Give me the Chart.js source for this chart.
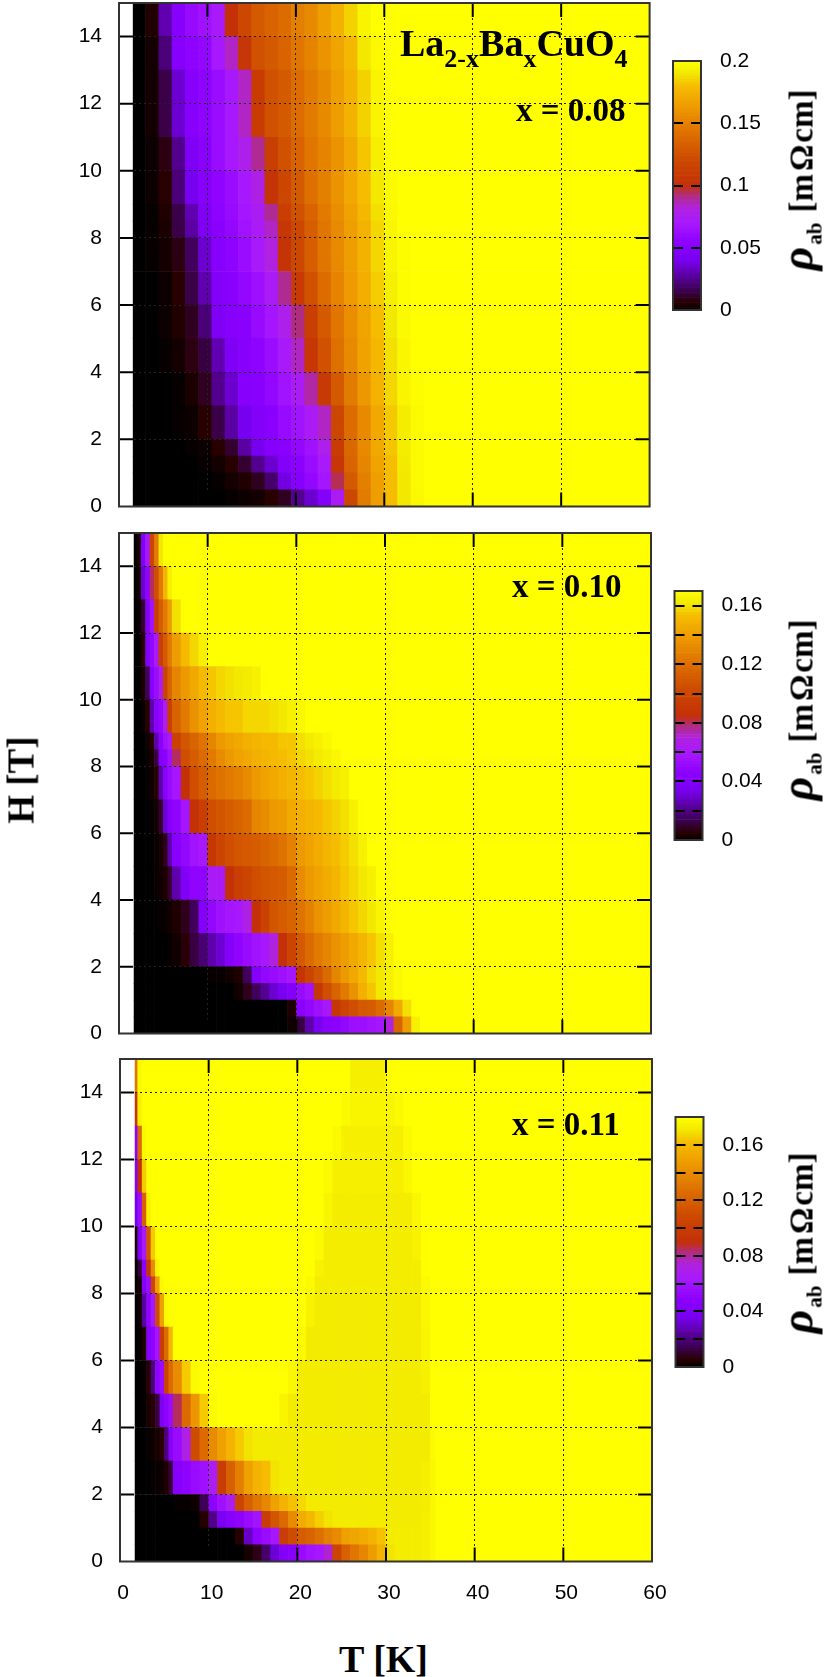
<!DOCTYPE html>
<html>
<head>
<meta charset="utf-8">
<title>La2-xBaxCuO4 resistivity maps</title>
<script src="https://cdn.jsdelivr.net/npm/chart.js@4"></script>
<style>
  html, body { margin: 0; padding: 0; background: #fff; width: 830px; height: 1677px; overflow: hidden; }
  canvas { position: absolute; }
  .txt { position: absolute; font-family: "Liberation Serif", serif; font-weight: bold; color: #000; line-height: 1; white-space: nowrap; }
  .rot { transform: translate(-50%, -50%) rotate(-90deg); }
  .sub { font-size: 26px; vertical-align: -11px; line-height: 0; }
  .rho { font-style: italic; font-size: 46px; line-height: 0; }
  .ab { font-size: 21px; vertical-align: -9px; line-height: 0; margin: 0 10px 0 2px; }
  .Om { margin: 0 2px 0 3px; }
</style>
</head>
<body>
<canvas id="map08"></canvas><canvas id="map10"></canvas><canvas id="map11"></canvas>
<canvas id="bar08"></canvas><canvas id="bar10"></canvas><canvas id="bar11"></canvas>

<div class="txt" style="left:400px;top:24px;font-size:38px">La<span class="sub">2-x</span>Ba<span class="sub">x</span>CuO<span class="sub">4</span></div>
<div class="txt" style="left:516px;top:94px;font-size:33px">x = 0.08</div>
<div class="txt" style="left:512px;top:570px;font-size:33px">x = 0.10</div>
<div class="txt" style="left:512px;top:1108px;font-size:33px">x = 0.11</div>
<div class="txt rot" style="left:21px;top:780px;font-size:37px">H [T]</div>
<div class="txt" style="left:339px;top:1640px;font-size:38px">T [K]</div>
<div class="txt rot" style="left:802px;top:180px;font-size:33px"><span class="rho">ρ</span><span class="ab">ab</span>[m<span class="Om">Ω</span>cm]</div>
<div class="txt rot" style="left:802px;top:710px;font-size:33px"><span class="rho">ρ</span><span class="ab">ab</span>[m<span class="Om">Ω</span>cm]</div>
<div class="txt rot" style="left:802px;top:1243px;font-size:33px"><span class="rho">ρ</span><span class="ab">ab</span>[m<span class="Om">Ω</span>cm]</div>

<script>
// all rho values in micro-ohm cm, read off the colours of the picture
// each row runs from low T to high T; a row that stops early is saturated from there on

// x = 0.08
const tEdges08 = [1.6, 3, 4.5, 6, 7.5, 9, 10.5, 12, 13.5, 15, 16.5, 18, 19.5, 21, 22.5, 24, 25.5, 27, 28.5, 30, 31.5, 33, 34.5];
const hEdges08 = [0, 0.5, 1, 1.5, 2, 3, 4, 5, 6, 7, 8, 8.5, 9, 10, 11, 13, 14, 15];
const rho08 = [
  [0,0,0,0,0,0,0,1,2,3,6,10,25,35,48,75,120,148,165,180,190,197],
  [0,0,0,0,0,0,1,3,5,10,20,38,50,58,68,95,130,150,165,180,190,198],
  [0,0,0,0,0,1,3,6,12,25,35,48,54,62,72,105,135,153,168,180,191,198],
  [0,0,0,0,1,2,6,12,28,40,50,52,58,65,78,110,138,155,170,182,192,198],
  [0,0,0,1,2,6,15,28,40,48,52,60,66,74,85,118,140,155,170,183,192,198],
  [0,0,0,1,4,10,25,35,50,52,58,66,74,88,108,130,148,162,175,186,195,199],
  [0,0,1,3,8,14,30,45,50,55,62,72,85,105,125,142,155,167,178,188,196],
  [0,0,2,5,10,22,45,50,52,60,68,78,92,112,130,145,157,168,180,190,198],
  [0,0,2,6,15,30,48,52,58,64,74,90,108,125,140,152,163,173,184,193,199],
  [0,1,3,8,18,35,50,55,62,72,82,103,120,132,145,155,165,175,186,195,199],
  [0,1,4,15,28,45,52,58,66,73,85,105,120,132,145,155,165,175,186,196],
  [0,1,5,15,30,45,55,60,68,75,90,112,125,135,147,157,167,178,188,197],
  [0,2,6,22,40,50,56,62,70,80,103,118,130,142,150,160,170,180,190,198],
  [0,2,8,25,45,52,62,70,78,90,112,125,135,145,152,160,170,182,193],
  [0,3,15,35,50,55,62,70,85,110,125,130,140,148,155,165,175,185,195],
  [0,3,22,50,55,58,70,85,105,125,130,135,145,152,160,168,178,190,197],
  [0,5,30,50,60,65,72,100,120,130,135,140,150,155,165,175,185,195]
];

// x = 0.10
const tEdges10 = [1.7, 2, 2.5, 3, 3.5, 4, 4.5, 5, 5.5, 6, 7, 8, 9, 10, 11, 12, 13, 14, 15, 16, 17, 18, 19, 20, 21, 22, 23, 24, 25, 26, 27, 28, 29, 30, 31, 32, 33, 34];
const hEdges10 = [0, 0.5, 1, 1.5, 2, 3, 4, 5, 6, 7, 8, 8.5, 9, 10, 11, 12, 13, 14, 15];
const rho10 = [
  [0,0,0,0,0,0,0,0,0,0,0,0,0,0,0,0,0,0,0,0,0,0,2,12,25,35,44,46,50,54,54,56,58,70,115,140,165],
  [0,0,0,0,0,0,0,0,0,0,0,0,0,0,0,0,0,0,0,0,0,0,4,44,50,55,60,90,100,105,110,112,118,130,145,160,170],
  [0,0,0,0,0,0,0,0,0,0,0,0,0,0,0,0,2,8,15,22,30,36,42,52,56,90,105,115,125,135,148,155,162,165,168,170],
  [0,0,0,0,0,0,0,0,0,0,0,0,0,1,1,2,4,15,42,50,52,55,58,88,100,108,118,130,138,145,152,158,162,165,168],
  [0,0,0,0,0,0,0,0,1,2,6,12,18,25,30,42,48,52,56,60,70,85,100,110,118,125,130,135,140,145,150,155,160,165],
  [0,0,0,0,0,0,1,1,2,4,8,15,42,50,55,58,60,68,85,98,108,112,115,122,128,135,140,145,150,155,158,162,166],
  [0,0,0,0,0,1,2,4,10,25,40,48,48,62,62,85,95,100,105,108,110,112,118,132,138,142,146,150,155,158,162,165],
  [0,0,0,0,0,1,3,8,25,45,50,56,60,90,100,105,108,110,112,115,118,122,128,138,142,146,150,153,156,160,165],
  [0,0,0,0,1,2,10,30,42,48,58,85,95,105,108,112,115,118,130,133,138,140,145,148,150,152,155,157,160,165],
  [0,0,0,1,2,5,25,45,52,58,85,105,112,118,122,125,128,132,138,142,145,148,150,153,155,157,160,163,165],
  [0,0,0,1,3,12,42,46,55,80,105,112,118,125,132,138,142,145,148,150,152,153,155,158,160,163,165,167],
  [0,0,0,2,5,25,45,55,62,98,108,115,122,130,138,142,145,148,150,152,152,155,155,160,163,165,167],
  [0,0,1,5,25,45,50,65,95,115,125,135,142,148,152,155,155,158,158,158,160,162,165,167],
  [0,0,3,15,44,52,66,100,115,130,138,145,152,155,158,160,162,163,165],
  [0,0,6,40,50,62,95,110,125,140,152,158,165],
  [0,1,10,42,56,95,112,125,140,160],
  [0,2,30,48,80,105,125,150,165],
  [0,3,42,60,100,125,162]
];

// x = 0.11
const tEdges11 = [1.7, 2, 2.5, 3, 3.5, 4, 4.5, 5, 5.5, 6, 7, 8, 9, 10, 11, 12, 13, 14, 15, 16, 17, 18, 19, 20, 21, 22, 23, 24, 25, 26, 27, 28, 29, 30, 31, 32, 33, 34, 35, 35.6];
const hEdges11 = [0, 0.5, 1, 1.5, 2, 3, 4, 5, 6, 7, 8, 8.5, 9, 10, 11, 12, 13, 14, 15];
const rho11 = [
  [0,0,0,0,0,0,0,0,0,0,0,0,0,0,0,0,0,3,8,18,32,44,46,55,60,62,75,105,120,130,138,148,158,170,173,173,173,174,177],
  [0,0,0,0,0,0,0,0,0,0,0,0,0,0,0,0,5,30,50,56,62,100,110,118,122,128,135,140,150,152,155,158,163,172,173,173,173,174,177],
  [0,0,0,0,0,0,0,0,0,0,0,0,5,22,38,45,50,55,60,100,115,125,140,155,160,166,170,172,172,172,172,172,172,172,172,172,172,174,177],
  [0,0,0,0,0,0,0,0,0,1,1,2,15,50,58,68,105,120,130,138,150,158,163,168,172,172,172,172,172,172,172,172,172,172,172,172,172,173,177],
  [0,0,0,0,1,1,2,4,12,45,50,55,58,68,100,120,135,150,158,162,170,172,172,172,172,172,172,172,172,172,172,172,172,172,172,172,172,174,177],
  [0,0,0,1,2,3,6,20,45,55,72,110,125,140,150,158,165,170,172,172,172,172,172,172,172,172,172,172,172,172,172,172,172,172,172,172,172,172,178],
  [0,0,1,3,6,12,40,50,56,85,125,145,165,178,180,180,180,180,180,180,180,176,172,172,172,172,172,172,172,172,172,172,172,172,172,172,172,172,180],
  [0,0,1,6,20,50,56,105,125,140,165,178,180,180,180,180,180,180,180,180,180,180,177,172,172,172,172,172,172,172,172,172,172,172,172,172,172,174,180],
  [0,1,4,45,50,60,100,125,160,180,180,180,180,180,180,180,180,180,180,180,180,180,180,178,172,172,172,172,172,172,172,172,172,172,172,172,172,176,180],
  [0,2,25,50,62,110,150,178,180,180,180,180,180,180,180,180,180,180,180,180,180,180,180,180,175,172,172,172,172,172,172,172,172,172,172,172,172,177,180],
  [0,3,45,55,105,150,178,180,180,180,180,180,180,180,180,180,180,180,180,180,180,180,180,180,178,173,173,173,173,173,173,173,173,173,173,173,173,178,180],
  [1,12,48,95,140,175,180,180,180,180,180,180,180,180,180,180,180,180,180,180,180,180,180,180,180,175,173,173,173,173,173,173,173,173,173,173,173,180,180],
  [3,45,65,115,165,180,180,180,180,180,180,180,180,180,180,180,180,180,180,180,180,180,180,180,180,178,173,173,173,173,173,173,173,173,173,173,175,180,180],
  [35,55,120,175,180,180,180,180,180,180,180,180,180,180,180,180,180,180,180,180,180,180,180,180,180,180,176,173,173,173,173,173,173,173,173,173,177,180,180],
  [45,90,165,180,180,180,180,180,180,180,180,180,180,180,180,180,180,180,180,180,180,180,180,180,180,180,178,174,174,174,174,174,174,174,174,177,180,180,180],
  [50,125,178,180,180,180,180,180,180,180,180,180,180,180,180,180,180,180,180,180,180,180,180,180,180,180,180,178,174,174,174,174,174,174,174,178,180,180,180],
  [95,175,180,180,180,180,180,180,180,180,180,180,180,180,180,180,180,180,180,180,180,180,180,180,180,180,180,180,178,176,176,176,176,176,178,180,180,180,180],
  [130,178,180,180,180,180,180,180,180,180,180,180,180,180,180,180,180,180,180,180,180,180,180,180,180,180,180,180,180,174,174,174,174,180,180,180,180,180,180]
];

const xTicks = [0, 10, 20, 30, 40, 50, 60];
const hTicks = [0, 2, 4, 6, 8, 10, 12, 14];

// colour map of the plots, position along the colour bar and colour
const cmapPos = [0, 0.03, 0.08, 0.15, 0.2, 0.27, 0.35, 0.41, 0.46, 0.5, 0.6, 0.7, 0.8, 0.9, 0.95, 1];
const cmapCol = ['#000000', '#280000', '#3c0050', '#6000b0', '#7800f0', '#8c00ff', '#a818ff', '#b022e0', '#b02c80', '#c43008', '#cc4800', '#dc6c00', '#ec9400', '#f6bc00', '#f2e800', '#ffff00'];

const hexToRgb = c => [1, 3, 5].map(i => parseInt(c.substr(i, 2), 16));

function rhoColor(v, max) {
  const g = Math.min(1, Math.max(0, v / max));
  let i = 0;
  while (i < cmapPos.length - 2 && g > cmapPos[i + 1]) i++;
  const f = (g - cmapPos[i]) / (cmapPos[i + 1] - cmapPos[i]);
  const a = hexToRgb(cmapCol[i]), b = hexToRgb(cmapCol[i + 1]);
  return `rgb(${a.map((c, k) => Math.round(c + (b[k] - c) * f)).join(',')})`;
}

const FONT = { family: '"Liberation Sans", Arial, sans-serif', size: 21 };
const FRAME = '#333';

function place(canvas, left, top, width, height) {
  canvas.width = width;
  canvas.height = height;
  canvas.style.left = left + 'px';
  canvas.style.top = top + 'px';
}

// Stops the tick labels from eating into the plot area
function noLabelPadding(s) {
  s.paddingTop = s.paddingBottom = s.paddingLeft = s.paddingRight = 0;
}

// frame and inward tick marks, drawn on top of the cells
const frameTicks = {
  id: 'frameTicks',
  afterDraw(chart) {
    const { ctx, chartArea: a, scales: { x, y } } = chart;
    ctx.save();
    ctx.strokeStyle = '#000';
    ctx.lineWidth = 2;
    ctx.beginPath();
    xTicks.slice(1, -1).forEach(t => {
      const px = x.getPixelForValue(t);
      ctx.moveTo(px, a.top); ctx.lineTo(px, a.top + 14);
      ctx.moveTo(px, a.bottom); ctx.lineTo(px, a.bottom - 14);
    });
    hTicks.slice(1).forEach(h => {
      const py = y.getPixelForValue(h);
      ctx.moveTo(a.left, py); ctx.lineTo(a.left + 14, py);
      ctx.moveTo(a.right, py); ctx.lineTo(a.right - 14, py);
    });
    ctx.stroke();
    ctx.strokeStyle = FRAME;
    ctx.strokeRect(a.left, a.top, a.right - a.left, a.bottom - a.top);
    ctx.restore();
  }
};

function heatMap(id, box, tEdges, hEdges, rows, maxRho, showLabels) {
  const canvas = document.getElementById(id);
  const canvasW = 670, padTop = 8, axisH = showLabels ? 50 : 0, padBottom = 14;
  const plotH = box.bottom - box.top;
  place(canvas, 0, box.top - padTop, canvasW, Math.ceil(padTop + plotH + axisH + padBottom));
  const edges = tEdges.concat(60);
  const datasets = rows.map((row, r) => {
    const cells = edges.slice(0, -1).map((lo, i) => ({ x: [lo, edges[i + 1]], y: (hEdges[r] + hEdges[r + 1]) / 2 }));
    return {
      data: cells,
      grouped: false,
      barThickness: (hEdges[r + 1] - hEdges[r]) * plotH / 15,
      backgroundColor: cells.map((c, i) => rhoColor(i < row.length ? row[i] : maxRho, maxRho))
    };
  });
  return new Chart(canvas, {
    type: 'bar',
    data: { datasets },
    plugins: [frameTicks],
    options: {
      indexAxis: 'y',
      responsive: false,
      animation: false,
      layout: { padding: { top: padTop, bottom: canvas.height - padTop - plotH - axisH, left: 0, right: canvasW - box.right } },
      plugins: { legend: { display: false }, tooltip: { enabled: false } },
      scales: {
        x: {
          type: 'linear', min: 0, max: 60,
          afterFit: s => { s.height = axisH; noLabelPadding(s); },
          afterBuildTicks: s => { s.ticks = xTicks.map(value => ({ value })); },
          ticks: { display: showLabels, color: '#000', font: FONT, padding: 19, labelOffset: 3, maxRotation: 0, autoSkip: false },
          border: { display: false, dash: [2, 3] },
          grid: { z: 1, color: '#222', lineWidth: 1, drawTicks: false }
        },
        y: {
          type: 'linear', min: 0, max: 15, offset: false,
          afterFit: s => { s.width = box.left; noLabelPadding(s); },
          afterBuildTicks: s => { s.ticks = hTicks.map(value => ({ value })); },
          ticks: { color: '#000', font: FONT, padding: 17, autoSkip: false },
          border: { display: false, dash: [2, 3] },
          grid: { z: 1, offset: false, color: '#222', lineWidth: 1, drawTicks: false }
        }
      }
    }
  });
}

const barFrame = {
  id: 'barFrame',
  afterDraw(chart) {
    const { ctx, chartArea: a } = chart;
    ctx.save();
    ctx.strokeStyle = FRAME;
    ctx.lineWidth = 2;
    ctx.strokeRect(a.left, a.top, a.right - a.left, a.bottom - a.top);
    ctx.restore();
  }
};

function colorBar(id, box, maxRho, tickStep, labelStep) {
  const canvas = document.getElementById(id);
  const canvasLeft = 660, canvasW = 170, pad = 14;
  place(canvas, canvasLeft, box.top - pad, canvasW, box.bottom - box.top + 2 * pad);
  const levels = [];
  for (let v = 0; v < maxRho; v += 2) levels.push(v);
  const cellH = 2 * (box.bottom - box.top) / maxRho;
  return new Chart(canvas, {
    type: 'bar',
    data: {
      datasets: [{
        data: levels.map(v => ({ x: [0, 1], y: v + 1 })),
        barThickness: cellH,
        backgroundColor: levels.map(v => rhoColor(v + 1, maxRho))
      }]
    },
    plugins: [barFrame],
    options: {
      indexAxis: 'y',
      responsive: false,
      animation: false,
      layout: { padding: { top: pad, bottom: pad, left: box.left - canvasLeft, right: 0 } },
      plugins: { legend: { display: false }, tooltip: { enabled: false } },
      scales: {
        x: { type: 'linear', min: 0, max: 1, display: false },
        y: {
          type: 'linear', position: 'right', min: 0, max: maxRho, offset: false,
          afterFit: s => { s.width = canvasLeft + canvasW - box.right; noLabelPadding(s); },
          ticks: {
            stepSize: tickStep, includeBounds: false, color: '#000', font: FONT, padding: 19, autoSkip: false,
            callback: v => (v % labelStep === 0 ? String(v / 1000) : '')
          },
          border: { display: false, dash: [10, 8, 10, 100] },
          grid: { z: 1, offset: false, color: '#000', lineWidth: 2, drawTicks: false }
        }
      }
    }
  });
}

heatMap('map08', { left: 119, right: 649.6, top: 2.5, bottom: 506 }, tEdges08, hEdges08, rho08, 200, false);
heatMap('map10', { left: 119, right: 651, top: 532.5, bottom: 1033 }, tEdges10, hEdges10, rho10, 170, false);
heatMap('map11', { left: 120, right: 652, top: 1058.5, bottom: 1561 }, tEdges11, hEdges11, rho11, 180, true);

colorBar('bar08', { left: 673, right: 701, top: 61, bottom: 310 }, 200, 50, 50);
colorBar('bar10', { left: 674.5, right: 702.5, top: 590.5, bottom: 839.5 }, 170, 20, 40);
colorBar('bar11', { left: 675.5, right: 703.5, top: 1116.5, bottom: 1366.5 }, 180, 20, 40);
</script>
</body>
</html>
